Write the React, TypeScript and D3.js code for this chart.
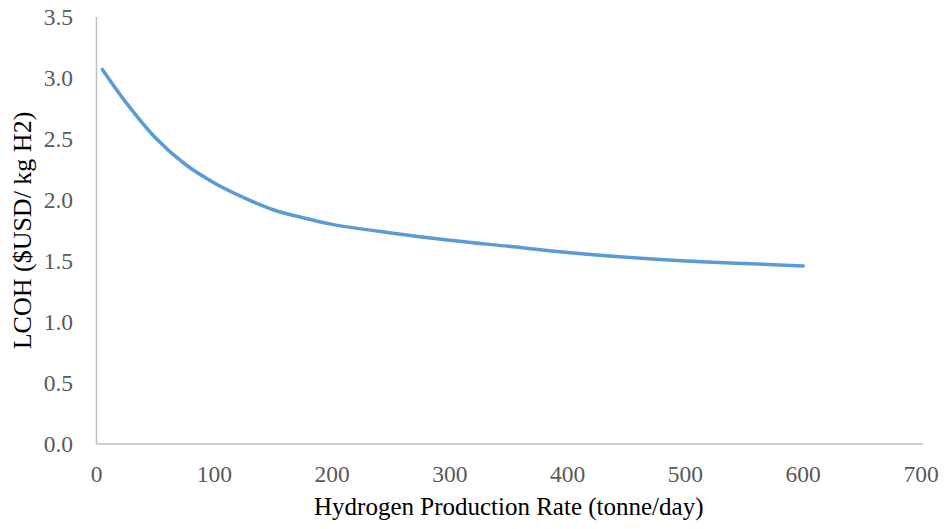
import React from "react";
import * as d3 from "d3";

const rates = [5, 25, 50, 75, 100, 125, 150, 175, 200, 250, 300, 350, 400, 450, 500, 550, 600];
const lcoh = [3.07, 2.8, 2.51, 2.295, 2.14, 2.02, 1.92, 1.855, 1.8, 1.73, 1.67, 1.62, 1.57, 1.53, 1.5, 1.48, 1.46];
const xTicks = [0, 100, 200, 300, 400, 500, 600, 700];
const yTicks = [0, 0.5, 1, 1.5, 2, 2.5, 3, 3.5];

export default function App() {
  const W = 945, H = 529;
  const x = d3.scaleLinear().domain([0, 700]).range([96.5, 921]);
  const y = d3.scaleLinear().domain([0, 3.5]).range([444, 17]);
  const data = rates.map((r, i) => [r, lcoh[i]] as [number, number]);
  const line = d3.line<[number, number]>().x(d => x(d[0])).y(d => y(d[1])).curve(d3.curveCatmullRom.alpha(0.5));
  const font = "'Liberation Serif', 'Times New Roman', serif";
  return (
    <svg width={W} height={H} style={{ position: "absolute", left: 0, top: 0, background: "#fff" }} fontFamily={font}>
      <line x1={x(0)} x2={x(700) + 2} y1={y(0)} y2={y(0)} stroke="#BFBFBF" strokeWidth={1.5} />
      <line x1={x(0)} x2={x(0)} y1={y(0)} y2={y(3.5)} stroke="#BFBFBF" strokeWidth={1.5} />
      {yTicks.map(t => (
        <text key={"y" + t} x={73} y={y(t)} dy="0.35em" textAnchor="end" fontSize={23.5} fill="#595959">{t.toFixed(1)}</text>
      ))}
      {xTicks.map(t => (
        <text key={"x" + t} x={x(t)} y={474} dy="0.35em" textAnchor="middle" fontSize={23.5} fill="#595959">{t}</text>
      ))}
      <path d={line(data) || ""} fill="none" stroke="#5B9BD5" strokeWidth={3.5} strokeLinecap="round" strokeLinejoin="round" />
      <text x={(x(0) + x(700)) / 2} y={506} dy="0.35em" textAnchor="middle" fontSize={25} fill="#000">Hydrogen Production Rate (tonne/day)</text>
      <text transform={`translate(22,${(y(0) + y(3.5)) / 2}) rotate(-90)`} dy="0.35em" textAnchor="middle" fontSize={26} fill="#000">LCOH ($USD/ kg H2)</text>
    </svg>
  );
}
